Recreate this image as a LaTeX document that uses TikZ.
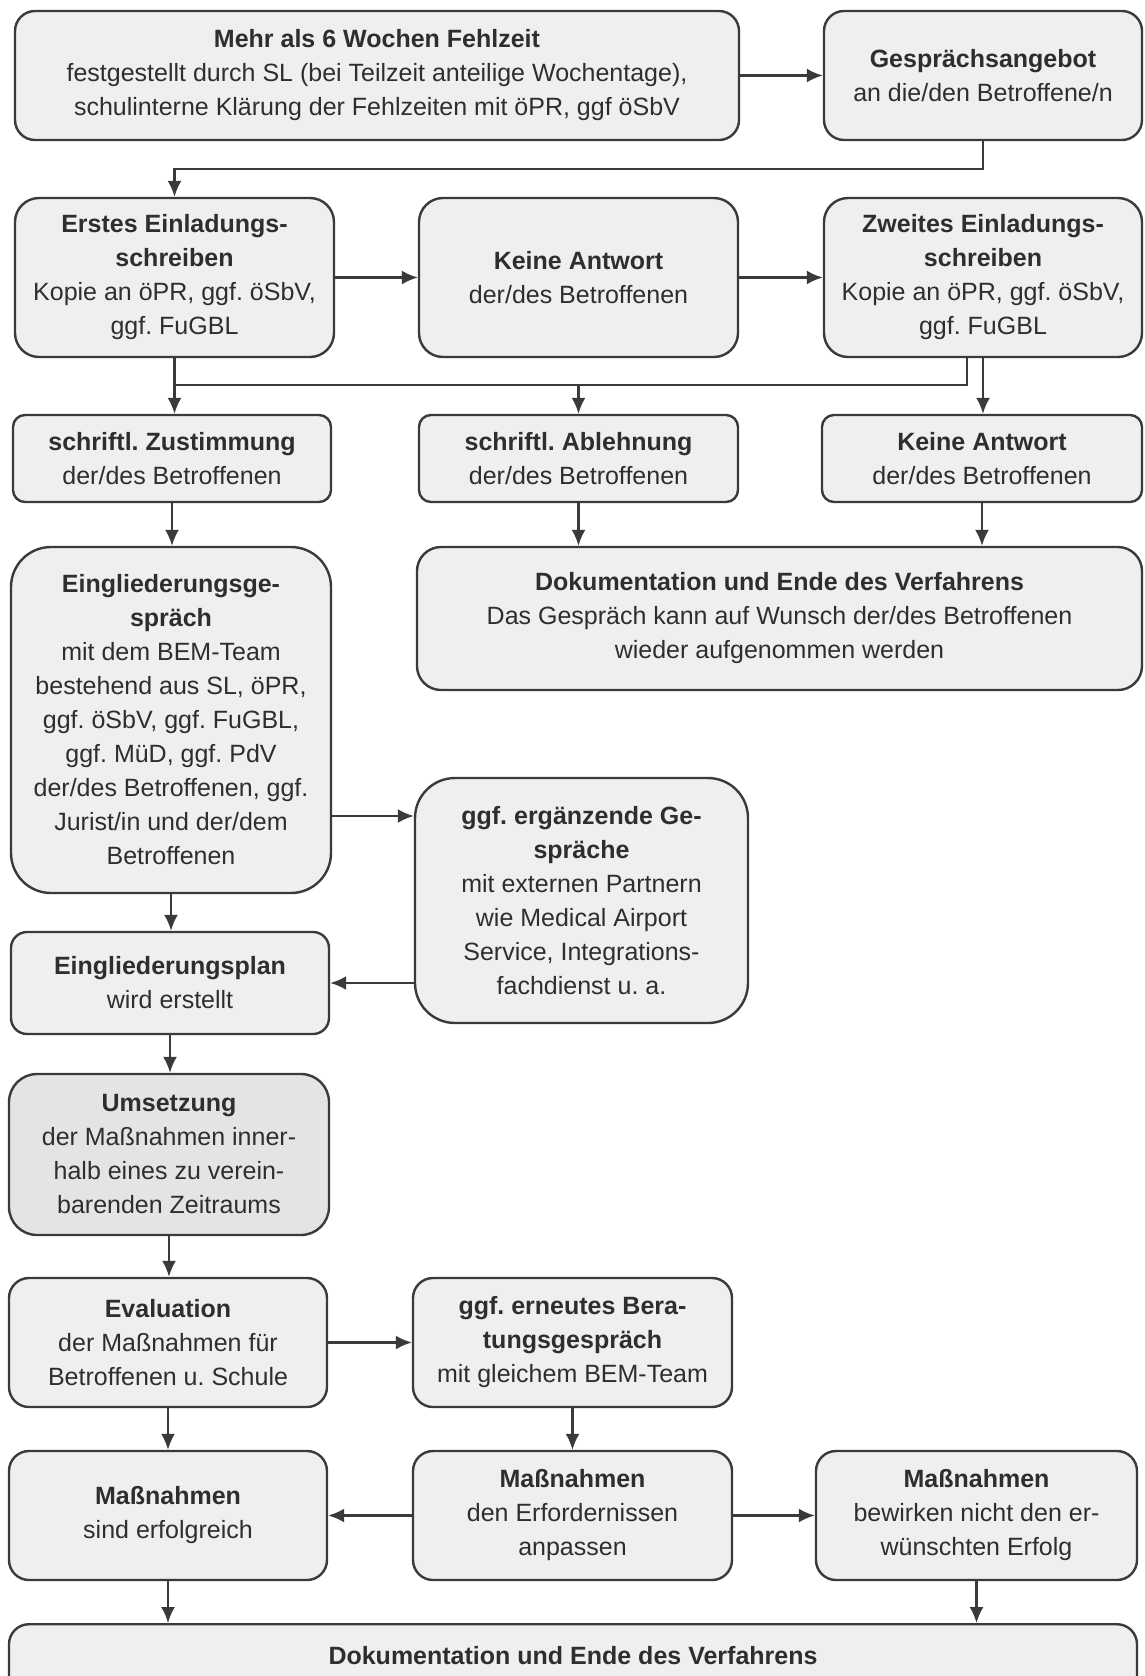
\documentclass[tikz,border=0pt]{standalone}
\usepackage{fontspec}
\setmainfont{Liberation Sans}
\usetikzlibrary{arrows.meta}
\definecolor{boxgray}{HTML}{EFEFEF}
\definecolor{darkbox}{HTML}{E4E4E4}
\definecolor{linegray}{HTML}{3A3A3A}
\definecolor{textgray}{HTML}{2E2E2E}
\frenchspacing
\begin{document}
\begin{tikzpicture}[x=0.5pt, y=-0.5pt,
	box/.style={draw=linegray, fill=boxgray, line width=1.2pt, rounded corners=10pt, align=center, inner sep=2pt, text=textgray, font=\fontsize{12.5}{17}\selectfont},
	>={Latex[length=8pt, width=7pt]}]
		\useasboundingbox (0,0) rectangle (1145,1676);
		\node[box, minimum width=362pt, minimum height=64.5pt] (Start) at (377,75.5) {\textbf{Mehr als 6 Wochen Fehlzeit}\\ festgestellt durch SL (bei Teilzeit anteilige Wochentage),\\ schulinterne Klärung der Fehlzeiten mit öPR, ggf öSbV};
		\node[box, minimum width=159pt, minimum height=64.5pt] (Angebot) at (983,75.5) {\textbf{Gesprächsangebot}\\ an die/den Betroffene/n};
		\node[box, minimum width=159.5pt, minimum height=79.5pt, rounded corners=12pt] (Erstes) at (174.5,277.5) {\textbf{Erstes Einladungs-}\\ \textbf{schreiben}\\ Kopie an öPR, ggf. öSbV,\\ ggf. FuGBL};
		\node[box, minimum width=159.5pt, minimum height=79.5pt, rounded corners=12pt] (Keine1) at (578.5,277.5) {\textbf{Keine Antwort}\\ der/des Betroffenen};
		\node[box, minimum width=159pt, minimum height=79.5pt, rounded corners=12pt] (Zweites) at (983,277.5) {\textbf{Zweites Einladungs-}\\ \textbf{schreiben}\\ Kopie an öPR, ggf. öSbV,\\ ggf. FuGBL};
		\node[box, minimum width=159pt, minimum height=43.5pt, rounded corners=6pt] (Zustimmung) at (172,458.5) {\textbf{schriftl. Zustimmung}\\ der/des Betroffenen};
		\node[box, minimum width=159.5pt, minimum height=43.5pt, rounded corners=6pt] (Ablehnung) at (578.5,458.5) {\textbf{schriftl. Ablehnung}\\ der/des Betroffenen};
		\node[box, minimum width=160pt, minimum height=43.5pt, rounded corners=6pt] (Keine2) at (982,458.5) {\textbf{Keine Antwort}\\ der/des Betroffenen};
		\node[box, minimum width=160pt, minimum height=173pt, rounded corners=20pt] (Gespraech) at (171,720) {\textbf{Eingliederungsge-}\\ \textbf{spräch}\\ mit dem BEM-Team\\ bestehend aus SL, öPR,\\ ggf. öSbV, ggf. FuGBL,\\ ggf. MüD, ggf. PdV\\ der/des Betroffenen, ggf.\\ Jurist/in und der/dem\\ Betroffenen};
		\node[box, minimum width=362.5pt, minimum height=71.5pt, rounded corners=12pt] (Doku1) at (779.5,618.5) {\textbf{Dokumentation und Ende des Verfahrens}\\ Das Gespräch kann auf Wunsch der/des Betroffenen\\ wieder aufgenommen werden};
		\node[box, minimum width=166.5pt, minimum height=122.5pt, rounded corners=20pt] (Ergaenzend) at (581.5,900.5) {\textbf{ggf. ergänzende Ge-}\\ \textbf{spräche}\\ mit externen Partnern\\ wie Medical Airport\\ Service, Integrations-\\ fachdienst u. a.};
		\node[box, minimum width=159pt, minimum height=51pt, rounded corners=8pt] (Plan) at (170,983) {\textbf{Eingliederungsplan}\\ wird erstellt};
		\node[box, fill=darkbox, minimum width=160pt, minimum height=80.5pt, rounded corners=14pt] (Umsetzung) at (169,1154.5) {\bfseries Umsetzung\\ der Maßnahmen inner-\\ halb eines zu verein-\\ barenden Zeitraums};
		\node[box, minimum width=159pt, minimum height=64.5pt] (Evaluation) at (168,1342.5) {\textbf{Evaluation}\\ der Maßnahmen für\\ Betroffenen u. Schule};
		\node[box, minimum width=159.5pt, minimum height=64.5pt] (Erneut) at (572.5,1342.5) {\textbf{ggf. erneutes Bera-}\\ \textbf{tungsgespräch}\\ mit gleichem BEM-Team};
		\node[box, minimum width=159pt, minimum height=64.5pt] (Erfolg) at (168,1515.5) {\textbf{Maßnahmen}\\ sind erfolgreich};
		\node[box, minimum width=159.5pt, minimum height=64.5pt] (Anpassen) at (572.5,1515.5) {\textbf{Maßnahmen}\\ den Erfordernissen\\ anpassen};
		\node[box, minimum width=160.5pt, minimum height=64.5pt] (Misserfolg) at (976.5,1515.5) {\textbf{Maßnahmen}\\ bewirken nicht den er-\\ wünschten Erfolg};
		\node[box, anchor=north, minimum width=564pt, inner ysep=11pt, text depth=40pt] (Ende) at (573,1623) {\textbf{Dokumentation und Ende des Verfahrens}};
		% Arrows
		\coordinate (Split) at (578.5,385);
		\draw[line width=1.1pt, linegray, ->] (Start) -- (Angebot);
		\draw[line width=1.1pt, linegray, ->] (Angebot.south) -- ++(0,28) -| (Erstes.north);
		\draw[line width=1.1pt, linegray, ->] (Erstes) -- (Keine1);
		\draw[line width=1.1pt, linegray, ->] (Keine1) -- (Zweites);
		\draw[line width=1.1pt, linegray, ->] (Erstes.south) -- (Erstes.south |- Zustimmung.north);
		\draw[line width=1.1pt, linegray] ([xshift=-8pt]Zweites.south) |- (Erstes.south |- Split);
		\draw[line width=1.1pt, linegray, ->] (Split) -- (Ablehnung.north);
		\draw[line width=1.1pt, linegray, ->] (Zweites.south) -- (Zweites.south |- Keine2.north);
		\draw[line width=1.1pt, linegray, ->] (Zustimmung.south) -- (Zustimmung.south |- Gespraech.north);
		\draw[line width=1.1pt, linegray, ->] (Ablehnung.south) -- (Ablehnung.south |- Doku1.north);
		\draw[line width=1.1pt, linegray, ->] (Keine2.south) -- (Keine2.south |- Doku1.north);
		\draw[line width=1.1pt, linegray, ->] ([yshift=-48pt]Gespraech.east) -- ([yshift=-48pt]Gespraech.east -| Ergaenzend.west);
		\draw[line width=1.1pt, linegray, ->] (Gespraech.south) -- (Gespraech.south |- Plan.north);
		\draw[line width=1.1pt, linegray, ->] (Ergaenzend.west |- Plan.east) -- (Plan.east);
		\draw[line width=1.1pt, linegray, ->] (Plan.south) -- (Plan.south |- Umsetzung.north);
		\draw[line width=1.1pt, linegray, ->] (Umsetzung.south) -- (Umsetzung.south |- Evaluation.north);
		\draw[line width=1.1pt, linegray, ->] (Evaluation) -- (Erneut);
		\draw[line width=1.1pt, linegray, ->] (Evaluation) -- (Erfolg);
		\draw[line width=1.1pt, linegray, ->] (Erneut) -- (Anpassen);
		\draw[line width=1.1pt, linegray, ->] (Anpassen) -- (Erfolg);
		\draw[line width=1.1pt, linegray, ->] (Anpassen) -- (Misserfolg);
		\draw[line width=1.1pt, linegray, ->] (Erfolg.south) -- (Erfolg.south |- Ende.north);
		\draw[line width=1.1pt, linegray, ->] (Misserfolg.south) -- (Misserfolg.south |- Ende.north);
	\end{tikzpicture}
\end{document}
